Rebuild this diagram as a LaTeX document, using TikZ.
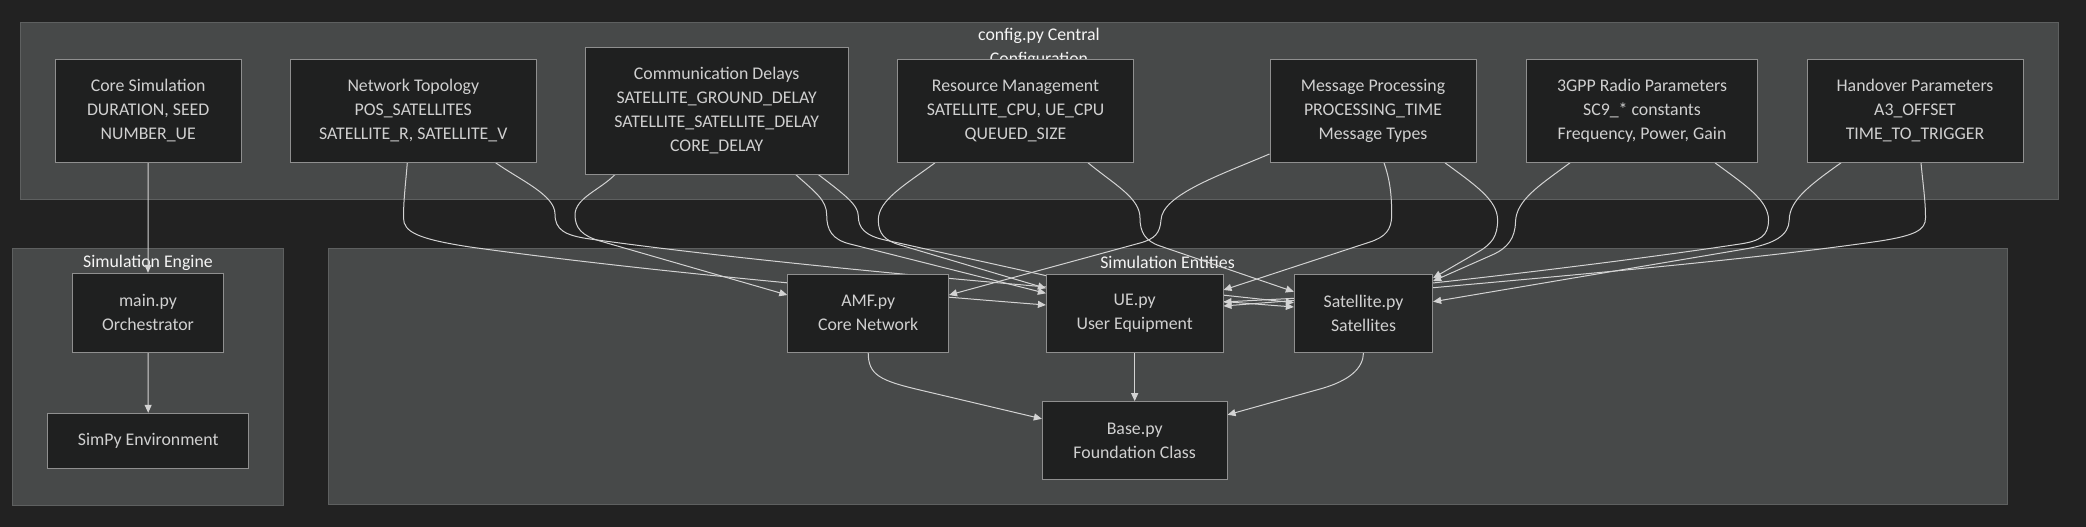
\documentclass[tikz,border=0pt]{standalone}
\usepackage{fontspec}
\setmainfont{Carlito}
\usetikzlibrary{arrows.meta,calc}
\definecolor{bgc}{HTML}{222222}
\definecolor{clfill}{HTML}{474949}
\definecolor{cldraw}{HTML}{5E6060}
\definecolor{ndfill}{HTML}{1F2020}
\definecolor{nddraw}{HTML}{8F8F8F}
\definecolor{ndtext}{HTML}{D0D0D0}
\definecolor{cltext}{HTML}{F5F5F5}
\definecolor{edgec}{HTML}{D3D3D3}
\pgfdeclarelayer{clusters}
\pgfdeclarelayer{edges}
\pgfsetlayers{clusters,edges,main}
\tikzset{
 box/.style={draw=nddraw, fill=ndfill, line width=1pt, text=ndtext, align=center, inner sep=0pt, font=\fontsize{17.8}{24}\selectfont},
 clusterbox/.style={draw=cldraw, fill=clfill, line width=1pt, inner sep=0pt},
 clustertitle/.style={text=cltext, align=center, inner sep=0pt, font=\fontsize{17.8}{24}\selectfont},
 edge/.style={draw=edgec, line width=1pt, -{Triangle[length=8pt,width=7pt]}},
}
\begin{document}
\begin{tikzpicture}[x=1pt,y=-1pt]
\useasboundingbox (0,0) rectangle (2086,527);
\begin{pgfonlayer}{clusters}
\fill[bgc] (0,0) rectangle (2086,527);
\node[clusterbox, minimum width=2038, minimum height=176.3] (cfg) at (1039,110.85) {};
\node[clusterbox, minimum width=271, minimum height=256.3] (eng) at (148,376.85) {};
\node[clusterbox, minimum width=1679, minimum height=256] (ent) at (1167.5,376.5) {};
\node[clustertitle] (cfgt) at (1039,48.3) {config.py Central\\Configuration};
\node[clustertitle] (engt) at (148,262.4) {Simulation Engine};
\node[clustertitle] (entt) at (1167.5,262.4) {Simulation Entities};
\end{pgfonlayer}

\node[box, minimum width=185.6, minimum height=102.6] (cs) at (148.2,111) {Core Simulation\\DURATION, SEED\\NUMBER\_UE};
\node[box, minimum width=245.4, minimum height=102.6] (nt) at (413.3,111) {Network Topology\\POS\_SATELLITES\\SATELLITE\_R, SATELLITE\_V};
\node[box, minimum width=263.3, minimum height=126.3] (cd) at (716.7,110.9) {Communication Delays\\SATELLITE\_GROUND\_DELAY\\SATELLITE\_SATELLITE\_DELAY\\CORE\_DELAY};
\node[box, minimum width=235.1, minimum height=102.6] (rm) at (1015.5,111) {Resource Management\\SATELLITE\_CPU, UE\_CPU\\QUEUED\_SIZE};
\node[box, minimum width=206, minimum height=102.6] (mp) at (1373,111) {Message Processing\\PROCESSING\_TIME\\Message Types};
\node[box, minimum width=231, minimum height=102.6] (rp) at (1642,111) {3GPP Radio Parameters\\SC9\_* constants\\Frequency, Power, Gain};
\node[box, minimum width=216, minimum height=102.6] (ho) at (1915,111) {Handover Parameters\\A3\_OFFSET\\TIME\_TO\_TRIGGER};
\node[box, minimum width=151.4, minimum height=79] (main) at (148,312.8) {main.py\\Orchestrator};
\node[box, minimum width=200.9, minimum height=55] (simpy) at (148.2,440.8) {SimPy Environment};
\node[box, minimum width=160.7, minimum height=78] (amf) at (868.2,313) {AMF.py\\Core Network};
\node[box, minimum width=176.6, minimum height=78] (ue) at (1134.7,313) {UE.py\\User Equipment};
\node[box, minimum width=138.3, minimum height=78] (sat) at (1363.5,313) {Satellite.py\\Satellites};
\node[box, minimum width=184.7, minimum height=78.3] (base) at (1134.7,440.8) {Base.py\\Foundation Class};

\begin{pgfonlayer}{edges}
\draw[edge] (cs.south) -- (main.north);
\draw[edge] (main.south) -- (simpy.north);
% Network Topology
\draw[edge] ($(nt.south)+(-6,0)$) .. controls (405.5,185) and (403.5,200) .. (403.5,218) .. controls (403.5,232) and (418,239) .. (470,247) .. controls (650,272) and (880,292) .. ($(ue.west)+(0,-8)$);
\draw[edge] ($(nt.south)+(82.4,0)$) .. controls (520,180) and (555,195) .. (555,214) .. controls (555,230) and (565,235.5) .. (590,239) .. controls (800,268) and (1100,292) .. ($(sat.west)+(0,-6)$);
% Communication Delays
\draw[edge] ($(cd.south)+(-101.7,0)$) .. controls (600,190) and (575,198) .. (575,215) .. controls (575,228) and (582,235.8) .. (600,241) -- ($(amf.west)+(0,-18)$);
\draw[edge] ($(cd.south)+(79,0)$) .. controls (815,192) and (826.7,200) .. (826.7,215) .. controls (826.7,230) and (832,239.5) .. (850,244) -- ($(ue.west)+(0,-19.7)$);
\draw[edge] ($(cd.south)+(101.6,0)$) .. controls (845,195) and (858.3,205) .. (858.3,216) .. controls (858.3,228) and (865,235.6) .. (885,240) -- (1050,276.5) -- ($(sat.west)+(0,-10.3)$);
% Resource Management
\draw[edge] ($(rm.south)+(-80.5,0)$) .. controls (905,185) and (878.3,200) .. (878.3,220) .. controls (878.3,234) and (885,240.6) .. (900,245) -- ($(ue.west)+(0,-24.7)$);
\draw[edge] ($(rm.south)+(72.5,0)$) .. controls (1115,185) and (1140,198) .. (1140,218) .. controls (1140,232) and (1145,240.9) .. (1160,246) -- ($(sat.west)+(0,-21.3)$);
% Message Processing
\draw[edge] ($(mp.west)+(0,43)$) .. controls (1220,175) and (1162,195) .. (1161,220) .. controls (1160,233) and (1155,238.9) .. (1140,243) -- ($(amf.east)+(0,-18)$);
\draw[edge] ($(mp.south)+(11,0)$) .. controls (1390,180) and (1391.7,195) .. (1391.7,215) .. controls (1391.7,230) and (1385,237.1) .. (1370,242) -- ($(ue.east)+(0,-23)$);
\draw[edge] ($(mp.south)+(72,0)$) .. controls (1475,185) and (1497.6,200) .. (1497.6,220) .. controls (1497.6,236) and (1492,244) .. (1478,252) -- ($(sat.east)+(0,-35)$);
% 3GPP Radio Parameters
\draw[edge] ($(rp.south)+(-72,0)$) .. controls (1540,185) and (1516,200) .. (1515.5,222) .. controls (1515,238) and (1508,248) .. (1492,255) -- ($(sat.east)+(0,-32)$);
\draw[edge] ($(rp.south)+(73,0)$) .. controls (1745,185) and (1768.5,200) .. (1768.5,220) .. controls (1768.5,236) and (1760,241) .. (1740,244) .. controls (1620,262) and (1480,278) .. (1428,283.5) -- (1300,298) -- ($(ue.east)+(0,-11)$);
% Handover Parameters
\draw[edge] ($(ho.south)+(-74,0)$) .. controls (1810,185) and (1789.5,200) .. (1789.2,220) .. controls (1789,235) and (1775,243.9) .. (1745,249) -- ($(sat.east)+(0,-11.3)$);
\draw[edge] ($(ho.south)+(6,0)$) .. controls (1923,185) and (1925.5,200) .. (1925.5,218) .. controls (1925.5,230) and (1915,235.5) .. (1880,241) .. controls (1750,260) and (1550,277) .. (1428,288.2) -- (1300,300) -- ($(ue.east)+(0,-7)$);
% to Base
\draw[edge] (amf.south) .. controls (868.2,375) and (880,380.6) .. (920,390) -- ($(base.west)+(0,-22)$);
\draw[edge] (ue.south) -- (base.north);
\draw[edge] (sat.south) .. controls (1363.3,368) and (1350,380.7) .. (1320,389) -- ($(base.east)+(0,-26)$);
\end{pgfonlayer}
\end{tikzpicture}
\end{document}
